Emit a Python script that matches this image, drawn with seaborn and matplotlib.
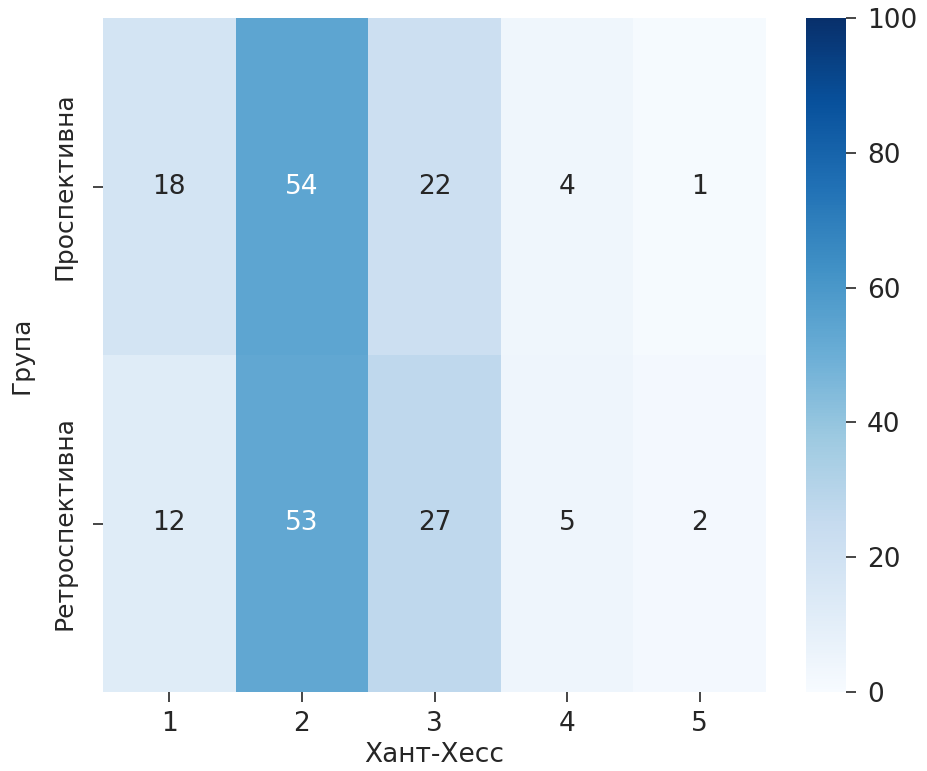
import matplotlib
matplotlib.use("Agg")
import matplotlib.pyplot as plt
import seaborn as sns
import pandas as pd

groups = ["Проспективна", "Ретроспективна"]
grades = [1, 2, 3, 4, 5]
prospective = [18, 54, 22, 4, 1]
retrospective = [12, 53, 27, 5, 2]

df = pd.DataFrame([prospective, retrospective], index=groups, columns=grades)

sns.set_theme(style="ticks")
plt.rcParams['font.family'] = ['DejaVu Sans']

W, H = 928, 771
fig = plt.figure(figsize=(W / 100, H / 100), dpi=100)
ax = fig.add_axes([103 / W, 1 - 692 / H, 663 / W, 674 / H])
cax = fig.add_axes([806 / W, 1 - 692 / H, 40 / W, 674 / H])

sns.heatmap(df, ax=ax, cbar_ax=cax, cmap="Blues", vmin=0, vmax=100,
            annot=True, fmt="d", annot_kws={"fontsize": 19})

ax.set_xlabel("Хант-Хесс", fontsize=19, labelpad=3)
ax.set_ylabel("Група", fontsize=18, labelpad=14)
ax.tick_params(axis="x", labelsize=19, length=7, width=1.2, pad=7)
ax.tick_params(axis="y", labelsize=18, length=7, width=1.2, pad=12)
ax.set_yticklabels(groups, rotation=90, va="center")
cax.tick_params(labelsize=19, length=7, width=1.2, pad=8)
cax.set_yticks([0, 20, 40, 60, 80, 100])

fig.savefig("out.png", dpi=100)
